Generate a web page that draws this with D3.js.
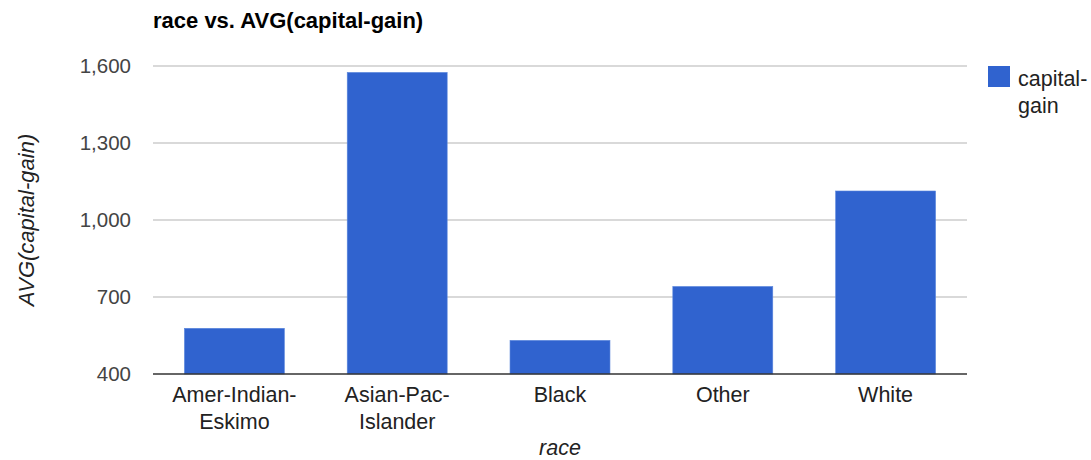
<!DOCTYPE html>
<html>
<head>
<meta charset="utf-8">
<script src="https://cdn.jsdelivr.net/npm/d3@7"></script>
<style>
  html, body { margin: 0; padding: 0; background: #fff; }
  svg { display: block; font-family: "Liberation Sans", Arial, Helvetica, sans-serif; }
</style>
</head>
<body>
<svg id="chart" width="1091" height="460"></svg>
<script>
// Average capital gain per race
const categories = ["Amer-Indian-Eskimo", "Asian-Pac-Islander", "Black", "Other", "White"];
const categoryLines = [["Amer-Indian-", "Eskimo"], ["Asian-Pac-", "Islander"], ["Black"], ["Other"], ["White"]];
const values = [578, 1575, 531, 741, 1113];
const yTicks = [400, 700, 1000, 1300, 1600];
const seriesName = ["capital-", "gain"];

const W = 1091, H = 460;
const FONT = "'Liberation Sans', Arial, Helvetica, sans-serif";
const FS_TICK = 20.5, FS_LABEL = 21.5, FS_TITLE = 22;
const margin = { left: 153, right: 124, top: 66, bottom: 86 };
const svg = d3.select("#chart");
const plotW = W - margin.left - margin.right;
const plotH = H - margin.top - margin.bottom;

const x = d3.scaleBand()
  .domain(categories)
  .range([margin.left, margin.left + plotW])
  .paddingInner(0.386)
  .paddingOuter(0.193);

const y = d3.scaleLinear()
  .domain([400, 1600])
  .range([margin.top + plotH, margin.top]);

// Gridlines
svg.append("g")
  .selectAll("line")
  .data(yTicks.slice(1))
  .join("line")
  .attr("x1", margin.left).attr("x2", margin.left + plotW)
  .attr("y1", d => y(d)).attr("y2", d => y(d))
  .attr("stroke", "#cccccc").attr("stroke-width", 1.5);

// Y tick labels
const yAxis = d3.axisLeft(y).tickValues(yTicks).tickSize(0).tickPadding(22).tickFormat(d3.format(","));
const gy = svg.append("g").attr("transform", `translate(${margin.left},0)`).call(yAxis);
gy.select(".domain").remove();
gy.selectAll("text").attr("font-size", FS_TICK).attr("fill", "#444").attr("font-family", FONT);

// Bars
svg.append("g")
  .selectAll("rect")
  .data(values)
  .join("rect")
  .attr("x", (d, i) => x(categories[i]))
  .attr("width", x.bandwidth())
  .attr("y", d => y(d))
  .attr("height", d => y(400) - y(d))
  .attr("fill", "#3063cf")
  .attr("stroke", "#5a86dc")
  .attr("stroke-width", 0.6);

// Baseline
svg.append("line")
  .attr("x1", margin.left).attr("x2", margin.left + plotW)
  .attr("y1", y(400)).attr("y2", y(400))
  .attr("stroke", "#333").attr("stroke-width", 1.5);

// Category labels
const xl = svg.append("g")
  .selectAll("text")
  .data(categories)
  .join("text")
  .attr("x", d => x(d) + x.bandwidth() / 2)
  .attr("y", 402)
  .attr("text-anchor", "middle")
  .attr("font-family", FONT)
  .attr("font-size", FS_LABEL)
  .attr("fill", "#222");
xl.selectAll("tspan")
  .data((d, i) => categoryLines[i])
  .join("tspan")
  .attr("x", function () { return d3.select(this.parentNode).attr("x"); })
  .attr("dy", (d, i) => i === 0 ? 0 : 27)
  .text(d => d);

// Title
svg.append("text")
  .attr("x", 153).attr("y", 28)
  .attr("font-family", FONT)
  .attr("font-size", FS_TITLE).attr("font-weight", "bold").attr("fill", "#000")
  .text("race vs. AVG(capital-gain)");

// Axis titles
svg.append("text")
  .attr("x", margin.left + plotW / 2).attr("y", 455)
  .attr("text-anchor", "middle").attr("font-style", "italic")
  .attr("font-family", FONT)
  .attr("font-size", FS_LABEL).attr("fill", "#222")
  .text("race");

svg.append("text")
  .attr("transform", `translate(34,${margin.top + plotH / 2}) rotate(-90)`)
  .attr("text-anchor", "middle").attr("font-style", "italic")
  .attr("font-family", FONT)
  .attr("font-size", FS_TITLE).attr("fill", "#222")
  .text("AVG(capital-gain)");

// Legend
const lg = svg.append("g");
lg.append("rect")
  .attr("x", 988).attr("y", 66).attr("width", 22).attr("height", 21)
  .attr("fill", "#3063cf");
lg.append("text")
  .attr("x", 1018).attr("y", 86)
  .attr("font-family", FONT)
  .attr("font-size", FS_LABEL).attr("fill", "#222")
  .selectAll("tspan")
  .data(seriesName)
  .join("tspan")
  .attr("x", 1018)
  .attr("dy", (d, i) => i === 0 ? 0 : 27)
  .text(d => d);
</script>
</body>
</html>
